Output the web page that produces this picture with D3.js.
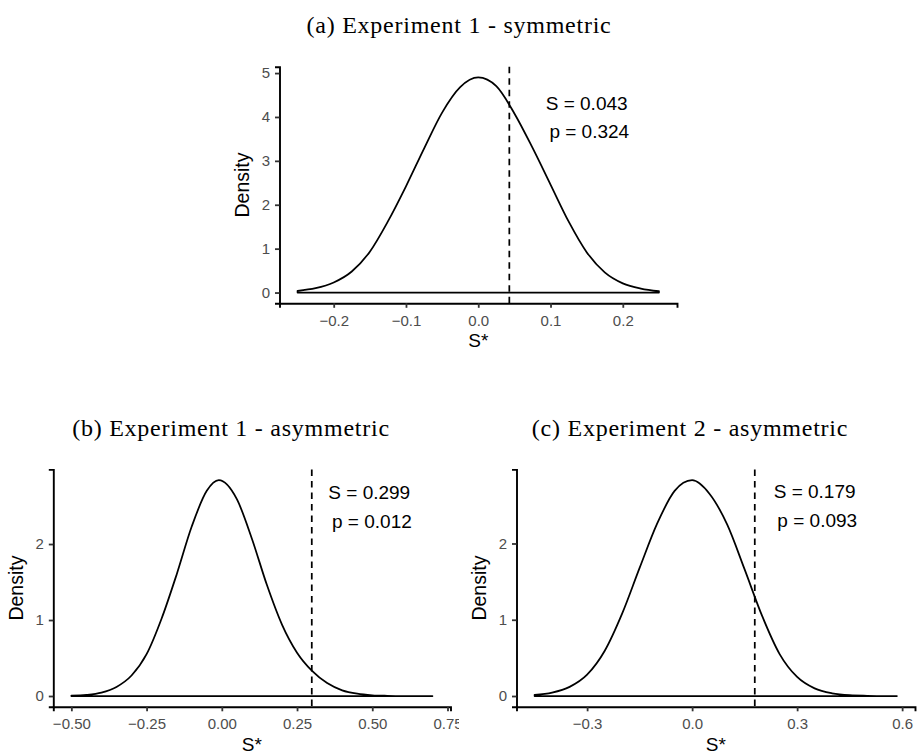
<!DOCTYPE html>
<html>
<head>
<meta charset="utf-8">
<script src="https://cdn.jsdelivr.net/npm/d3@7"></script>
<style>
  body { margin: 0; background: #fff; }
  .tick line { stroke: #333; stroke-width: 1.8; }
  .domain { stroke: #000; stroke-width: 1.9; }
</style>
</head>
<body>
<svg id="chart" width="919" height="756"></svg>
<script>
// density estimates, one pair of arrays per panel
var aX = [-0.25, -0.225, -0.2, -0.175, -0.15, -0.125, -0.1, -0.075, -0.05, -0.025, 0, 0.025, 0.05, 0.075, 0.1, 0.125, 0.15, 0.175, 0.2, 0.225, 0.25]
var aDensity = [0.04, 0.10, 0.23, 0.48, 0.93, 1.62, 2.42, 3.28, 4.10, 4.68, 4.90, 4.70, 4.08, 3.30, 2.46, 1.62, 0.92, 0.46, 0.21, 0.09, 0.03]

var bX = [-0.5, -0.45, -0.4, -0.35, -0.3, -0.25, -0.2, -0.15, -0.1, -0.05, -0.01, 0.05, 0.1, 0.15, 0.2, 0.25, 0.3, 0.35, 0.4, 0.45, 0.5, 0.55, 0.6, 0.65, 0.7]
var bDensity = [0.005, 0.015, 0.045, 0.12, 0.27, 0.55, 1.02, 1.60, 2.23, 2.70, 2.84, 2.59, 2.07, 1.46, 0.94, 0.57, 0.33, 0.17, 0.075, 0.03, 0.01, 0.003, 0, 0, 0]

var cX = [-0.45, -0.4, -0.35, -0.3, -0.25, -0.2, -0.15, -0.1, -0.05, 0, 0.05, 0.1, 0.15, 0.2, 0.25, 0.3, 0.35, 0.4, 0.45, 0.5, 0.55, 0.585]
var cDensity = [0.015, 0.045, 0.12, 0.28, 0.59, 1.08, 1.68, 2.26, 2.69, 2.83, 2.65, 2.25, 1.66, 1.05, 0.55, 0.25, 0.10, 0.035, 0.01, 0.003, 0, 0]

var titles = ["(a) Experiment 1 - symmetric", "(b) Experiment 1 - asymmetric", "(c) Experiment 2 - asymmetric"]
var observedS = [0.043, 0.299, 0.179]
var pValues = ["0.324", "0.012", "0.093"]
var labelX = [0.15, 0.49, 0.35]
var labelY = [4, 2.5, 2.5]
var xTicks = [[-0.2, -0.1, 0, 0.1, 0.2], [-0.5, -0.25, 0, 0.25, 0.5, 0.75], [-0.3, 0, 0.3, 0.6]]
var yTicks = [[0, 1, 2, 3, 4, 5], [0, 1, 2], [0, 1, 2]]
var xFormats = [".1f", ".2f", ".1f"]

var sans = "Liberation Sans, Arial, sans-serif"
var svg = d3.select("#chart")

// panel boxes: left = y axis, bottom = x axis
var panels = [
  {xs: aX, ys: aDensity, left: 279.5, right: 677, top: 66.7, bottom: 303.3, titleX: 459, titleY: 33, clip: false},
  {xs: bX, ys: bDensity, left: 53.3, right: 450.5, top: 469.4, bottom: 706.8, titleX: 231, titleY: 436, clip: true},
  {xs: cX, ys: cDensity, left: 516.5, right: 915, top: 469.4, bottom: 706.8, titleX: 690, titleY: 436, clip: false}
]

svg.append("defs").append("clipPath").attr("id", "clipB")
  .append("rect").attr("x", 0).attr("y", 380).attr("width", 459).attr("height", 376)

panels.forEach(function(p, i) {
  var g = svg.append("g")
  if (p.clip) g.attr("clip-path", "url(#clipB)")

  var xext = d3.extent(p.xs)
  var pad = (xext[1] - xext[0]) * 0.05
  var ymax = d3.max(p.ys)

  var x = d3.scaleLinear().domain([xext[0] - pad, xext[1] + pad]).range([p.left, p.right])
  var y = d3.scaleLinear().domain([-0.05 * ymax, ymax * 1.05]).range([p.bottom, p.top])

  var pts = p.xs.map(function(v, k) { return [v, p.ys[k]] })

  var area = d3.area()
    .x(d => x(d[0]))
    .y0(y(0))
    .y1(d => y(d[1]))
    .curve(d3.curveMonotoneX)

  g.append("path")
    .attr("d", area(pts))
    .attr("fill", "none")
    .attr("stroke", "#000")
    .attr("stroke-width", 1.75)
    .attr("stroke-linejoin", "round")

  // observed statistic
  g.append("line")
    .attr("x1", x(observedS[i])).attr("x2", x(observedS[i]))
    .attr("y1", p.top).attr("y2", p.bottom)
    .attr("stroke", "#000")
    .attr("stroke-width", 1.75)
    .attr("stroke-dasharray", "6.5,5")

  var xa = g.append("g")
    .attr("transform", "translate(0," + p.bottom + ")")
    .call(d3.axisBottom(x).tickValues(xTicks[i]).tickFormat(d3.format(xFormats[i]))
      .tickSizeOuter(0).tickSize(4.5).tickPadding(7.2))

  var ya = g.append("g")
    .attr("transform", "translate(" + p.left + ",0)")
    .call(d3.axisLeft(y).tickValues(yTicks[i]).tickFormat(d3.format("d"))
      .tickSizeOuter(0).tickSize(4.5).tickPadding(5))

  ;[xa, ya].forEach(function(ax) {
    ax.attr("font-family", sans).attr("font-size", 15)
    ax.selectAll(".tick text").attr("fill", "#4d4d4d")
  })

  g.append("text")
    .attr("x", (p.left + p.right) / 2)
    .attr("y", p.bottom + 44)
    .attr("text-anchor", "middle")
    .attr("font-family", sans)
    .attr("font-size", 19)
    .text("S*")

  g.append("text")
    .attr("transform", "translate(" + (p.left - 30.5) + "," + ((p.top + p.bottom) / 2) + ") rotate(-90)")
    .attr("text-anchor", "middle")
    .attr("font-family", sans)
    .attr("font-size", 19.5)
    .text("Density")

  var lab = g.append("text")
    .attr("text-anchor", "middle")
    .attr("font-family", sans)
    .attr("font-size", 19)
    .style("white-space", "pre")
  lab.append("tspan")
    .attr("x", x(labelX[i])).attr("y", y(labelY[i]) - 7)
    .text("S = " + observedS[i].toFixed(3))
  lab.append("tspan")
    .attr("x", x(labelX[i])).attr("y", y(labelY[i]) + 21.5)
    .text(" p = " + pValues[i])

  g.append("text")
    .attr("x", p.titleX)
    .attr("y", p.titleY)
    .attr("text-anchor", "middle")
    .attr("font-family", "Liberation Serif, serif")
    .attr("font-size", 24)
    .style("letter-spacing", "0.75px")
    .text(titles[i])
})
</script>
</body>
</html>
